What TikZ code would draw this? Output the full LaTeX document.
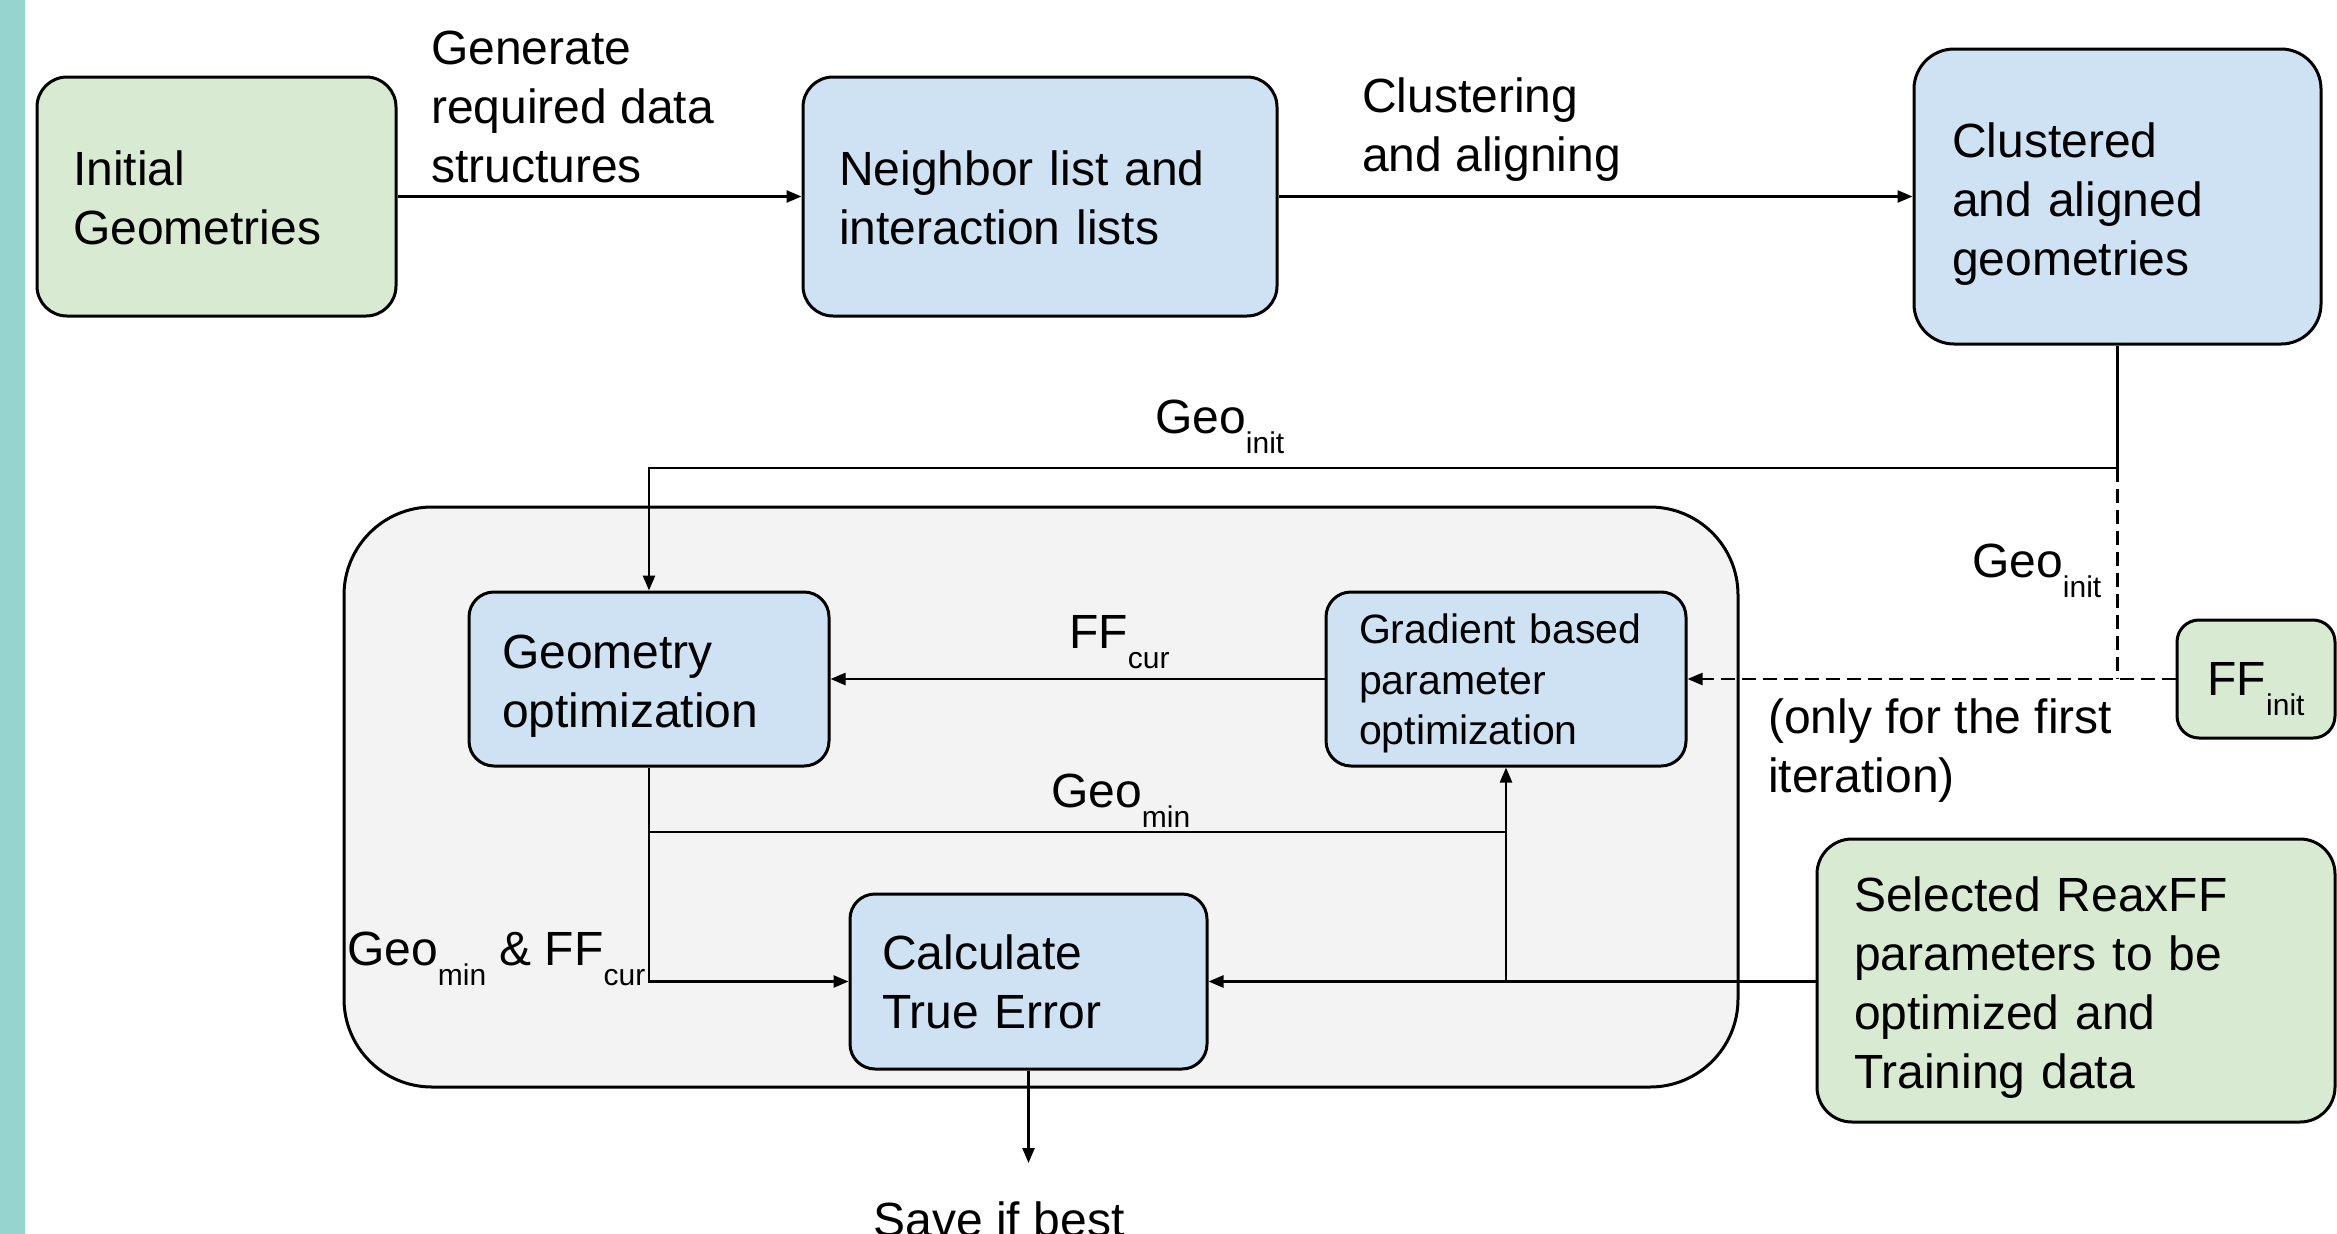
\documentclass[tikz,border=0pt]{standalone}
\usepackage{fontspec}
\setmainfont{Liberation Sans}
\usetikzlibrary{arrows.meta}
\definecolor{tealbar}{HTML}{96D5CF}
\definecolor{gfill}{HTML}{D9EAD3}
\definecolor{bfill}{HTML}{CFE2F3}
\definecolor{lfill}{HTML}{F3F3F3}
\newcommand\bigf{\fontsize{48}{59}\selectfont}
\newcommand\smallf{\fontsize{41}{50.5}\selectfont}
\newcommand\mysub[1]{\raisebox{-20pt}[0pt][0pt]{\fontsize{30}{30}\selectfont #1}}
\newcommand\toprule[1]{\rule{0pt}{#1}}
\begin{document}
\begin{tikzpicture}[x=1pt,y=-1pt,
  box/.style={draw=black, line width=3pt, rounded corners=#1, inner ysep=0pt, align=left, font=\bigf},
  lbl/.style={inner sep=0pt, align=left, font=\bigf},
  conn/.style={draw=black, line width=2.5pt},
  arr/.style={-{Triangle[length=15pt,width=12pt]}},
  dconn/.style={draw=black, line width=2.5pt, dash pattern=on 14pt off 7pt}
]
\useasboundingbox (0,0) rectangle (2337,1234);
\fill[tealbar] (0,0) rectangle (25,1234);

% top row
\node[box=30pt, fill=gfill, minimum width=359pt, minimum height=239pt, text width=287pt, inner xsep=36pt] (init) at (216.5,196.5) {\toprule{38pt}Initial\\Geometries};
\node[box=30pt, fill=bfill, minimum width=474pt, minimum height=239pt, text width=402pt, inner xsep=36pt] (neigh) at (1040,196.5) {\toprule{38pt}Neighbor list and\\interaction lists};
\node[box=40pt, fill=bfill, minimum width=407pt, minimum height=295pt, text width=331pt, inner xsep=38pt] (clus) at (2117.5,196.5) {\toprule{49pt}Clustered\\and aligned\\geometries};

% loop container
\node[box=88pt, fill=lfill, minimum width=1394pt, minimum height=580pt] (loop) at (1041,797) {};

\node[box=25pt, fill=bfill, minimum width=360pt, minimum height=174pt, text width=294pt, inner xsep=33pt] (geo) at (649,679) {\toprule{48pt}Geometry\\optimization};
\node[box=25pt, fill=bfill, minimum width=360pt, minimum height=174pt, text width=294pt, inner xsep=33pt, font=\smallf] (grad) at (1506,679) {\toprule{39pt}Gradient based\\parameter\\optimization};
\node[box=25pt, fill=bfill, minimum width=357pt, minimum height=175pt, text width=293pt, inner xsep=32pt] (calc) at (1028.5,981.5) {\toprule{36pt}Calculate\\True Error};

\node[box=35pt, fill=gfill, minimum width=518pt, minimum height=283pt, text width=444pt, inner xsep=37pt] (sel) at (2076,980.5) {\toprule{48pt}Selected ReaxFF\\parameters to be\\optimized and\\Training data};
\node[box=22pt, fill=gfill, minimum width=158pt, minimum height=118pt, align=center] (ffinit) at (2256,679) {FF\mysub{init}};

% coordinates
\coordinate (topbend) at (clus.south |- 0,468);
\coordinate (gm) at (geo.south |- 0,832);
\coordinate (savetip) at (calc.south |- 0,1163);

% connectors
\draw[conn,arr] (init.east) -- (neigh.west);
\draw[conn,arr] (neigh.east) -- (clus.west);
\draw[conn,arr] (clus.south) -- (topbend) -| (geo.north);
\draw[dconn] (topbend) -- (topbend |- ffinit.west);
\draw[dconn,arr] (ffinit.west) -- (grad.east);
\draw[conn,arr] (grad.west) -- (geo.east);
\draw[conn] (gm) -- (gm -| grad.south);
\draw[conn,arr] (geo.south) -- (geo.south |- calc.west) -- (calc.west);
\draw[conn,arr] (calc.east -| sel.west) -- (calc.east);
\draw[conn,arr] (grad.south |- calc.east) -- (grad.south);
\draw[conn,arr] (calc.south) -- (savetip);

% labels
\node[lbl, anchor=north west] (lgen) at (431,22.7) {\strut Generate\\required data\\structures};
\node[lbl, anchor=north west] (lclu) at (1362,70.7) {\strut Clustering\\and aligning};
\node[lbl, anchor=base west] (lgeoi) at (1155,433) {Geo\mysub{init}};
\node[lbl, anchor=base west] (lgeoi2) at (1972,577) {Geo\mysub{init}};
\node[lbl, anchor=base west] (lffcur) at (1069,648) {FF\mysub{cur}};
\node[lbl, anchor=base west] (lgeomin) at (1051,807) {Geo\mysub{min}};
\node[lbl, anchor=base west] (lboth) at (347,965) {Geo\mysub{min} \& FF\mysub{cur}};
\node[lbl, anchor=north west] (lonly) at (1768,691.7) {\strut(only for the first\\iteration)};
\node[lbl, anchor=base] (lsave) at (999,1236) {Save if best};
\end{tikzpicture}
\end{document}
